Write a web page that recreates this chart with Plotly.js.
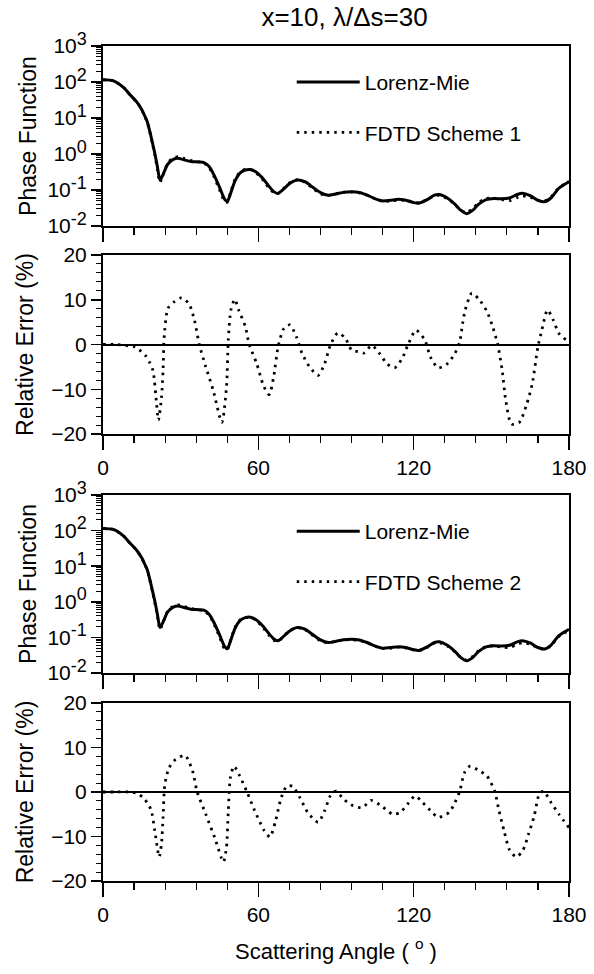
<!DOCTYPE html>
<html><head><meta charset="utf-8">
<script src="https://cdn.plot.ly/plotly-3.0.1.min.js"></script>
<style>html,body{margin:0;padding:0;background:#fff}#chart{width:594px;height:974px}</style>
</head><body><div id="chart"></div>
<script>
// Scattering angles (degrees) for the phase function curves
const angle = [0,4,8,10,13,15,16,17,18,19,20,21,22,23,25,27,29,31,34,37,39,41,43,45,47,48,49,51,53,55,57,59,62,64,66,67.5,69,72,75,78,81,84,87,90,93,96,99,102,105,108,111,114,117,120,122,125,128,130,133,136,138,140.5,143,145,148,151,154,157,160,162,165,168,170.5,173,176,178,180];
// Lorenz-Mie phase function
const lorenzMie = [115,108,70,48,28,17,12,8.3,4.5,2.2,1.05,0.45,0.19,0.25,0.52,0.70,0.76,0.70,0.62,0.60,0.58,0.45,0.25,0.12,0.055,0.048,0.07,0.18,0.30,0.36,0.37,0.32,0.20,0.13,0.09,0.08,0.095,0.15,0.19,0.17,0.12,0.085,0.072,0.078,0.086,0.089,0.085,0.072,0.058,0.05,0.052,0.055,0.052,0.045,0.043,0.053,0.072,0.075,0.06,0.04,0.028,0.022,0.028,0.04,0.054,0.058,0.057,0.06,0.075,0.081,0.07,0.052,0.047,0.06,0.11,0.14,0.17];
// FDTD Scheme 1 phase function
const fdtd1 = [115,108,70,48,27.8,16.7,11.7,8.0,4.3,2.07,0.95,0.38,0.163,0.24,0.56,0.765,0.84,0.77,0.67,0.603,0.56,0.416,0.2225,0.102,0.048,0.046,0.075,0.198,0.321,0.374,0.367,0.308,0.182,0.116,0.084,0.079,0.097,0.157,0.193,0.165,0.113,0.079,0.071,0.080,0.0875,0.088,0.0835,0.0713,0.0575,0.0486,0.0496,0.0526,0.0515,0.0462,0.0443,0.0532,0.0691,0.0713,0.0574,0.0393,0.0283,0.0239,0.0312,0.0441,0.0582,0.0597,0.0542,0.0504,0.0618,0.0684,0.0627,0.0517,0.0494,0.0639,0.1128,0.142,0.172];
// FDTD Scheme 2 phase function
const fdtd2 = [115,108,70,48,27.9,16.8,11.8,8.1,4.35,2.09,0.96,0.40,0.165,0.2425,0.543,0.748,0.819,0.756,0.653,0.594,0.558,0.4176,0.225,0.1038,0.0473,0.0451,0.0721,0.190,0.310,0.363,0.362,0.305,0.183,0.117,0.0833,0.0772,0.094,0.152,0.19,0.1646,0.1134,0.0797,0.0707,0.0782,0.0846,0.0865,0.0821,0.0703,0.0567,0.0483,0.0495,0.0524,0.0503,0.0446,0.0423,0.0511,0.0684,0.0708,0.0571,0.0391,0.0281,0.0231,0.0296,0.042,0.056,0.0582,0.0536,0.0522,0.0641,0.0703,0.0642,0.0514,0.047,0.0586,0.1045,0.1312,0.1566];
// Relative error (%) of Scheme 1
const errAngle1 = [0,5,10,12,14,16.3,18,19.3,20.7,21.4,22.6,23.2,23.6,25.1,27.6,30.2,33.1,35.3,37.2,39.7,42.6,45.9,47.7,48.4,49.4,50.9,52.4,55,56.4,59.4,62,64.2,65.9,67.8,69.9,72.2,74.7,76.9,79.8,83.1,85.6,87.8,90.7,93.6,96.1,98.5,100.9,103.8,106.8,109.7,112.6,115.5,117.7,120.9,124.3,126.5,129.4,133,135.9,137.8,138.9,139.9,142.5,145.4,148.3,150.5,152.4,154.2,155.6,157.8,160.8,163.7,165.8,168,169.5,171.7,173.9,176.1,179,180];
const err1 = [0,0,-0.3,-0.5,-1.2,-2.4,-4,-5.8,-13.3,-16.9,-11.8,-5.8,1.4,8.1,9.6,10.4,9.2,5.5,0,-5,-10.3,-17.4,-9.5,1,7.7,10.1,7.7,4,0.2,-4.3,-9.2,-11.2,-7.3,0,3.6,4.4,1.7,-2,-5,-6.9,-4.3,-0.2,2.6,1.4,-1.3,-1.6,-1.9,-0.2,-2,-4.3,-5.2,-3.2,-0.2,3.2,1,-2.8,-5.2,-4.3,-2,0.6,4.7,7.7,11.5,10,7.4,4,0.2,-5.8,-12.6,-17.8,-17.4,-13.3,-8.8,-0.5,3.2,7.7,5.5,2.5,1,0.8];
// Relative error (%) of Scheme 2
const errAngle2 = [0,5,10,13,15.6,18.5,20,21.7,22.6,23.2,23.9,25.5,28,31.7,34.6,36.3,39.7,43.3,46.5,47.7,48.4,49.2,50.6,52.8,55.7,58.6,62.3,64.5,66.7,68.8,71,73.2,76.1,79.1,83.1,85.6,87.8,90,92.9,96.6,100.2,103.5,107.5,111.9,114.8,117.7,120.6,123.5,127.2,129.4,133.7,135.9,137.8,139.6,141.8,144.7,148.3,151.3,152.7,154.9,157.1,159.7,162.2,164.4,166.6,168.5,170.2,173.1,176.1,180];
const err2 = [0,0,0,-0.3,-1.3,-3.9,-8.7,-14.6,-11.6,-5.7,1.7,5.4,7.3,8.2,4.7,0.2,-5,-10.5,-15.7,-12.4,-4.2,3.2,5.8,3.6,-0.1,-4.2,-8.7,-10.1,-6.4,-1.3,1.3,1.3,-1.3,-4.6,-6.8,-4.2,-0.9,0.2,-1.6,-3.1,-3.5,-1.9,-3.1,-5,-4.6,-2.7,-0.9,-2.4,-4.6,-5.7,-4.6,-2.4,0.2,4.3,5.8,5,3.6,0.2,-3.5,-8.7,-13.1,-14.6,-13.1,-9.4,-5.3,-0.5,0.2,-2.4,-5,-8];

const seriesNames = ['Lorenz-Mie','FDTD Scheme 1','FDTD Scheme 2'];
const xTickVals = [0,60,120,180];
const logTickVals = [0.01,0.1,1,10,100,1000];
const logExponents = ['-2','-1','0','1','2','3'];
const errTickVals = [-20,-10,0,10,20];

const FONT = '"Liberation Sans", Arial, Helvetica, sans-serif';
const logTickText = logExponents.map(p => '10<sup><span style="font-size:18px">' + p + '</span></sup>');
const dotDash = '2.5px,5px';
const lineSolid = {color:'black', width:3, shape:'spline', smoothing:0.7};
const lineDot = {color:'black', width:2.8, dash:dotDash, shape:'spline', smoothing:0.7};

const traces = [
  {x:angle, y:lorenzMie, xaxis:'x', yaxis:'y', mode:'lines', name:seriesNames[0], line:lineSolid, legend:'legend', legendgroup:'a'},
  {x:angle, y:fdtd1, xaxis:'x', yaxis:'y', mode:'lines', name:seriesNames[1], line:lineDot, legend:'legend', legendgroup:'b'},
  {x:errAngle1, y:err1, xaxis:'x2', yaxis:'y2', mode:'lines', line:lineDot, showlegend:false},
  {x:angle, y:lorenzMie, xaxis:'x3', yaxis:'y3', mode:'lines', name:seriesNames[0], line:lineSolid, legend:'legend2', legendgroup:'c'},
  {x:angle, y:fdtd2, xaxis:'x3', yaxis:'y3', mode:'lines', name:seriesNames[2], line:lineDot, legend:'legend2', legendgroup:'d'},
  {x:errAngle2, y:err2, xaxis:'x4', yaxis:'y4', mode:'lines', line:lineDot, showlegend:false}
];

const tickFont = {family:FONT, size:21, color:'black'};
function xAxis(anchor, showLabels, title) {
  const ax = {anchor:anchor, range:[0,180], tickvals:xTickVals, ticks:'outside', ticklen:14, tickwidth:1.5, tickcolor:'black',
    showticklabels:showLabels, tickfont:tickFont, showline:true, linewidth:2, linecolor:'black', mirror:true,
    showgrid:false, zeroline:false, fixedrange:true,
    minor:{dtick:12, tick0:0, ticks:'outside', ticklen:7, tickwidth:1.2, tickcolor:'black', showgrid:false}};
  if (title) ax.title = {text:title, font:{family:FONT, size:22, color:'black'}, standoff:18};
  return ax;
}
const minorLog = [];
for (let e = -2; e < 3; e++) for (let m = 2; m <= 9; m++) minorLog.push(m * Math.pow(10, e));
function logAxis(domain, title) {
  return {domain:domain, type:'log', range:[-2,3], tickmode:'array', tickvals:logTickVals, ticktext:logTickText,
    ticks:'outside', ticklen:10, tickwidth:1.5, tickcolor:'black', tickfont:tickFont,
    showline:true, linewidth:2, linecolor:'black', mirror:true, showgrid:false, zeroline:false,
    minor:{tickvals:minorLog, ticks:'outside', ticklen:5, tickwidth:1, tickcolor:'black', showgrid:false},
    title:{text:title, font:{family:FONT, size:23, color:'black'}, standoff:4}};
}
function errAxis(domain, title) {
  return {domain:domain, range:[-20,20], tickvals:errTickVals, ticks:'outside', ticklen:10, tickwidth:1.5, tickcolor:'black',
    tickfont:tickFont, showline:true, linewidth:2, linecolor:'black', mirror:true, showgrid:false,
    zeroline:true, zerolinecolor:'black', zerolinewidth:2,
    minor:{dtick:2, tick0:0, ticks:'outside', ticklen:5, tickwidth:1, tickcolor:'black', showgrid:false},
    title:{text:title, font:{family:FONT, size:23, color:'black'}, standoff:11}};
}

const legendCommon = {font:{family:FONT, size:21, color:'black'}, bgcolor:'rgba(0,0,0,0)', borderwidth:0,
  xanchor:'left', yanchor:'top', tracegroupgap:20, itemwidth:63, traceorder:'grouped'};

const layout = {
  width:594, height:974, paper_bgcolor:'white', plot_bgcolor:'white',
  margin:{l:103, r:25, t:46, b:93},
  font:{family:FONT, color:'black'},
  title:{text:'x=10, λ/Δs=30', x:0.58, xref:'container', xanchor:'center', y:0.983, yref:'container', yanchor:'middle',
    font:{family:FONT, size:26, color:'black'}},
  xaxis: xAxis('y', false),
  xaxis2: xAxis('y2', true),
  xaxis3: xAxis('y3', false),
  xaxis4: xAxis('y4', true, '\u00a0\u00a0\u00a0Scattering Angle ( <sup>o</sup> )'),
  yaxis: logAxis([0.7844,1], 'Phase Function'),
  yaxis2: errAxis([0.5353,0.7497], 'Relative Error (%)'),
  yaxis3: logAxis([0.2491,0.4623], 'Phase Function'),
  yaxis4: errAxis([0,0.2132], 'Relative Error (%)'),
  legend: Object.assign({x:0.405, y:0.981}, legendCommon),
  legend2: Object.assign({x:0.405, y:0.443}, legendCommon),
  showlegend:true
};

Plotly.newPlot('chart', traces, layout, {staticPlot:true, displayModeBar:false});
</script></body></html>
